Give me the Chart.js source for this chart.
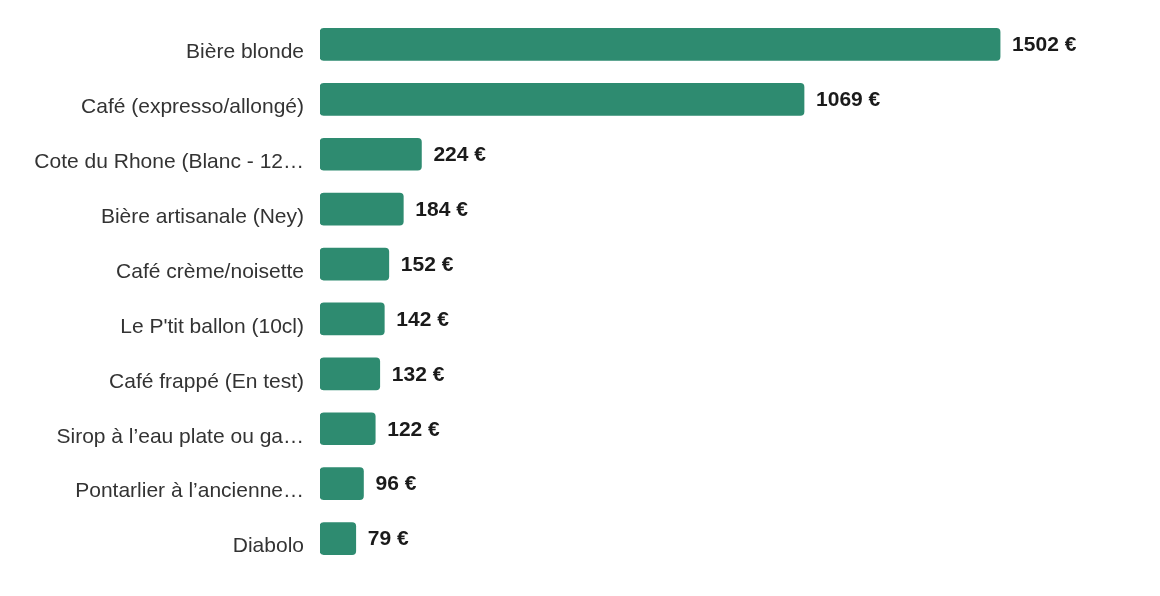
<!DOCTYPE html>
<html>
<head>
<meta charset="utf-8">
<script src="https://cdn.jsdelivr.net/npm/chart.js@4.4.1/dist/chart.umd.min.js"></script>
<style>
  html, body { margin: 0; padding: 0; background: #fff; }
  #wrap { position: relative; width: 1160px; height: 596px; }
</style>
</head>
<body>
<div id="wrap"><canvas id="sales-chart"></canvas></div>
<script>
const productNames = [
  "Bière blonde",
  "Café (expresso/allongé)",
  "Cote du Rhone (Blanc - 12…",
  "Bière artisanale (Ney)",
  "Café crème/noisette",
  "Le P'tit ballon (10cl)",
  "Café frappé (En test)",
  "Sirop à l’eau plate ou ga…",
  "Pontarlier à l’ancienne…",
  "Diabolo"
];
const revenue = [1502, 1069, 224, 184, 152, 142, 132, 122, 96, 79];

// draws "xxx €" just after each bar
const valueLabels = {
  id: "valueLabels",
  afterDatasetsDraw(chart) {
    const ctx = chart.ctx;
    const meta = chart.getDatasetMeta(0);
    ctx.save();
    ctx.font = "bold 21px 'Liberation Sans', Arial, sans-serif";
    ctx.fillStyle = "#1a1a1a";
    ctx.textAlign = "left";
    ctx.textBaseline = "middle";
    meta.data.forEach((bar, i) => {
      ctx.fillText(revenue[i] + " €", bar.x + 12, bar.y + 1);
    });
    ctx.restore();
  }
};

let canvas = document.getElementById("sales-chart").getContext("2d");
let salesChart = new Chart(canvas, {
  type: "bar",
  data: {
    labels: productNames,
    datasets: [
      {
        data: revenue,
        backgroundColor: "#2e8b70",
        borderRadius: 4,
        borderSkipped: false,
        barThickness: 32,
      },
    ],
  },
  options: {
    indexAxis: "y",
    responsive: true,
    maintainAspectRatio: false,
    animation: false,
    layout: { padding: { top: 17, bottom: 30, left: 0, right: 20 } },
    plugins: {
      legend: { display: false },
      tooltip: { enabled: false },
    },
    scales: {
      x: {
        display: false,
        min: 0,
        max: 1811,
      },
      y: {
        grid: { display: false, drawTicks: false },
        border: { display: false },
        afterFit: function (scale) {
          scale.width = 320;
          scale.paddingTop = 0;
          scale.paddingBottom = 0;
        },
        ticks: {
          padding: 16,
          labelOffset: 8,
          color: "#333333",
          font: { family: "'Liberation Sans', Arial, sans-serif", size: 21 },
          autoSkip: false,
        },
      },
    },
  },
  plugins: [valueLabels],
});
</script>
</body>
</html>
